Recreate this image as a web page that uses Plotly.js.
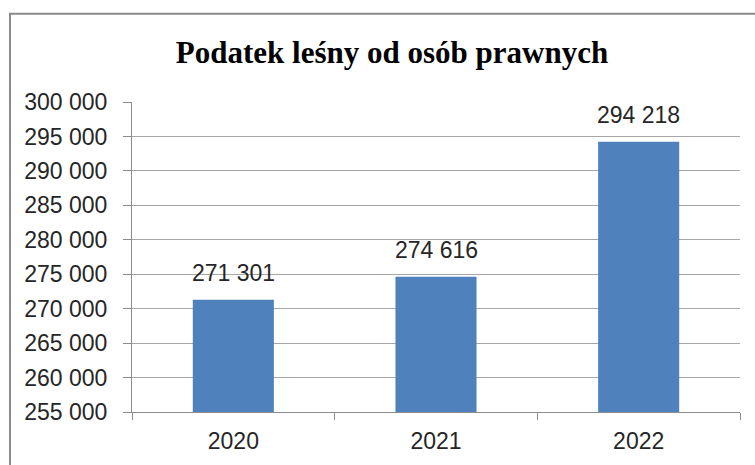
<!DOCTYPE html>
<html>
<head>
<meta charset="utf-8">
<script src="https://cdn.plot.ly/plotly-3.0.1.min.js"></script>
<style>
html,body{margin:0;padding:0;background:#fff;}
#chart{width:755px;height:465px;}
</style>
</head>
<body>
<div id="chart"></div>
<script>
const categories = ['2020', '2021', '2022'];
const values = [271301, 274616, 294218];
const chartTitle = 'Podatek leśny od osób prawnych';

function fmt(v) {
  return String(v).replace(/\B(?=(\d{3})+(?!\d))/g, ' ');
}

const tickFont = {family: 'Liberation Sans, Arial, sans-serif', size: 23, color: '#262626'};

const trace = {
  type: 'bar',
  x: categories,
  y: values,
  marker: {color: '#4f81bd', line: {width: 0}},
  hoverinfo: 'none'
};

const annotations = categories.map((c, i) => ({
  x: i,
  y: values[i],
  xref: 'x',
  yref: 'y',
  text: fmt(values[i]),
  showarrow: false,
  yanchor: 'middle',
  xanchor: 'center',
  yshift: 27,
  font: tickFont
}));

const layout = {
  width: 755,
  height: 465,
  margin: {l: 132, r: 15, t: 102, b: 53, pad: 0},
  paper_bgcolor: '#ffffff',
  plot_bgcolor: '#ffffff',
  separators: ', ',
  bargap: 0.6,
  showlegend: false,
  title: {
    text: chartTitle,
    x: 392 / 755,
    xanchor: 'center',
    xref: 'container',
    y: 0.888,
    yanchor: 'middle',
    yref: 'container',
    font: {family: 'Liberation Serif, Times New Roman, serif', size: 31, color: '#000000', weight: 700}
  },
  xaxis: {
    type: 'category',
    categoryorder: 'array',
    categoryarray: categories,
    range: [-0.5, categories.length - 0.5],
    autorange: false,
    showgrid: false,
    showline: true,
    linecolor: '#8c8c8c',
    linewidth: 1,
    ticks: 'outside',
    tickson: 'boundaries',
    ticklen: 7,
    tickcolor: '#8c8c8c',
    tickfont: tickFont,
    ticklabelstandoff: 8,
    tickangle: 0,
    zeroline: false,
    fixedrange: true
  },
  yaxis: {
    range: [255000, 300000],
    autorange: false,
    dtick: 5000,
    tick0: 255000,
    tickformat: ',d',
    showgrid: true,
    gridcolor: '#a6a6a6',
    gridwidth: 1,
    showline: true,
    linecolor: '#8c8c8c',
    linewidth: 1,
    ticks: 'outside',
    ticklen: 8,
    tickcolor: '#8c8c8c',
    tickfont: tickFont,
    ticklabelstandoff: 11,
    zeroline: false,
    fixedrange: true
  },
  annotations: annotations,
  shapes: [{
    type: 'rect',
    xref: 'paper', yref: 'paper',
    x0: (10 - 132) / 608, x1: 1.3,
    y0: -0.3, y1: (411.7 - 13.5) / 310,
    line: {color: '#8a8a8a', width: 2},
    fillcolor: 'rgba(0,0,0,0)',
    layer: 'below'
  }]
};

Plotly.newPlot('chart', [trace], layout, {displayModeBar: false, staticPlot: true});
</script>
</body>
</html>
